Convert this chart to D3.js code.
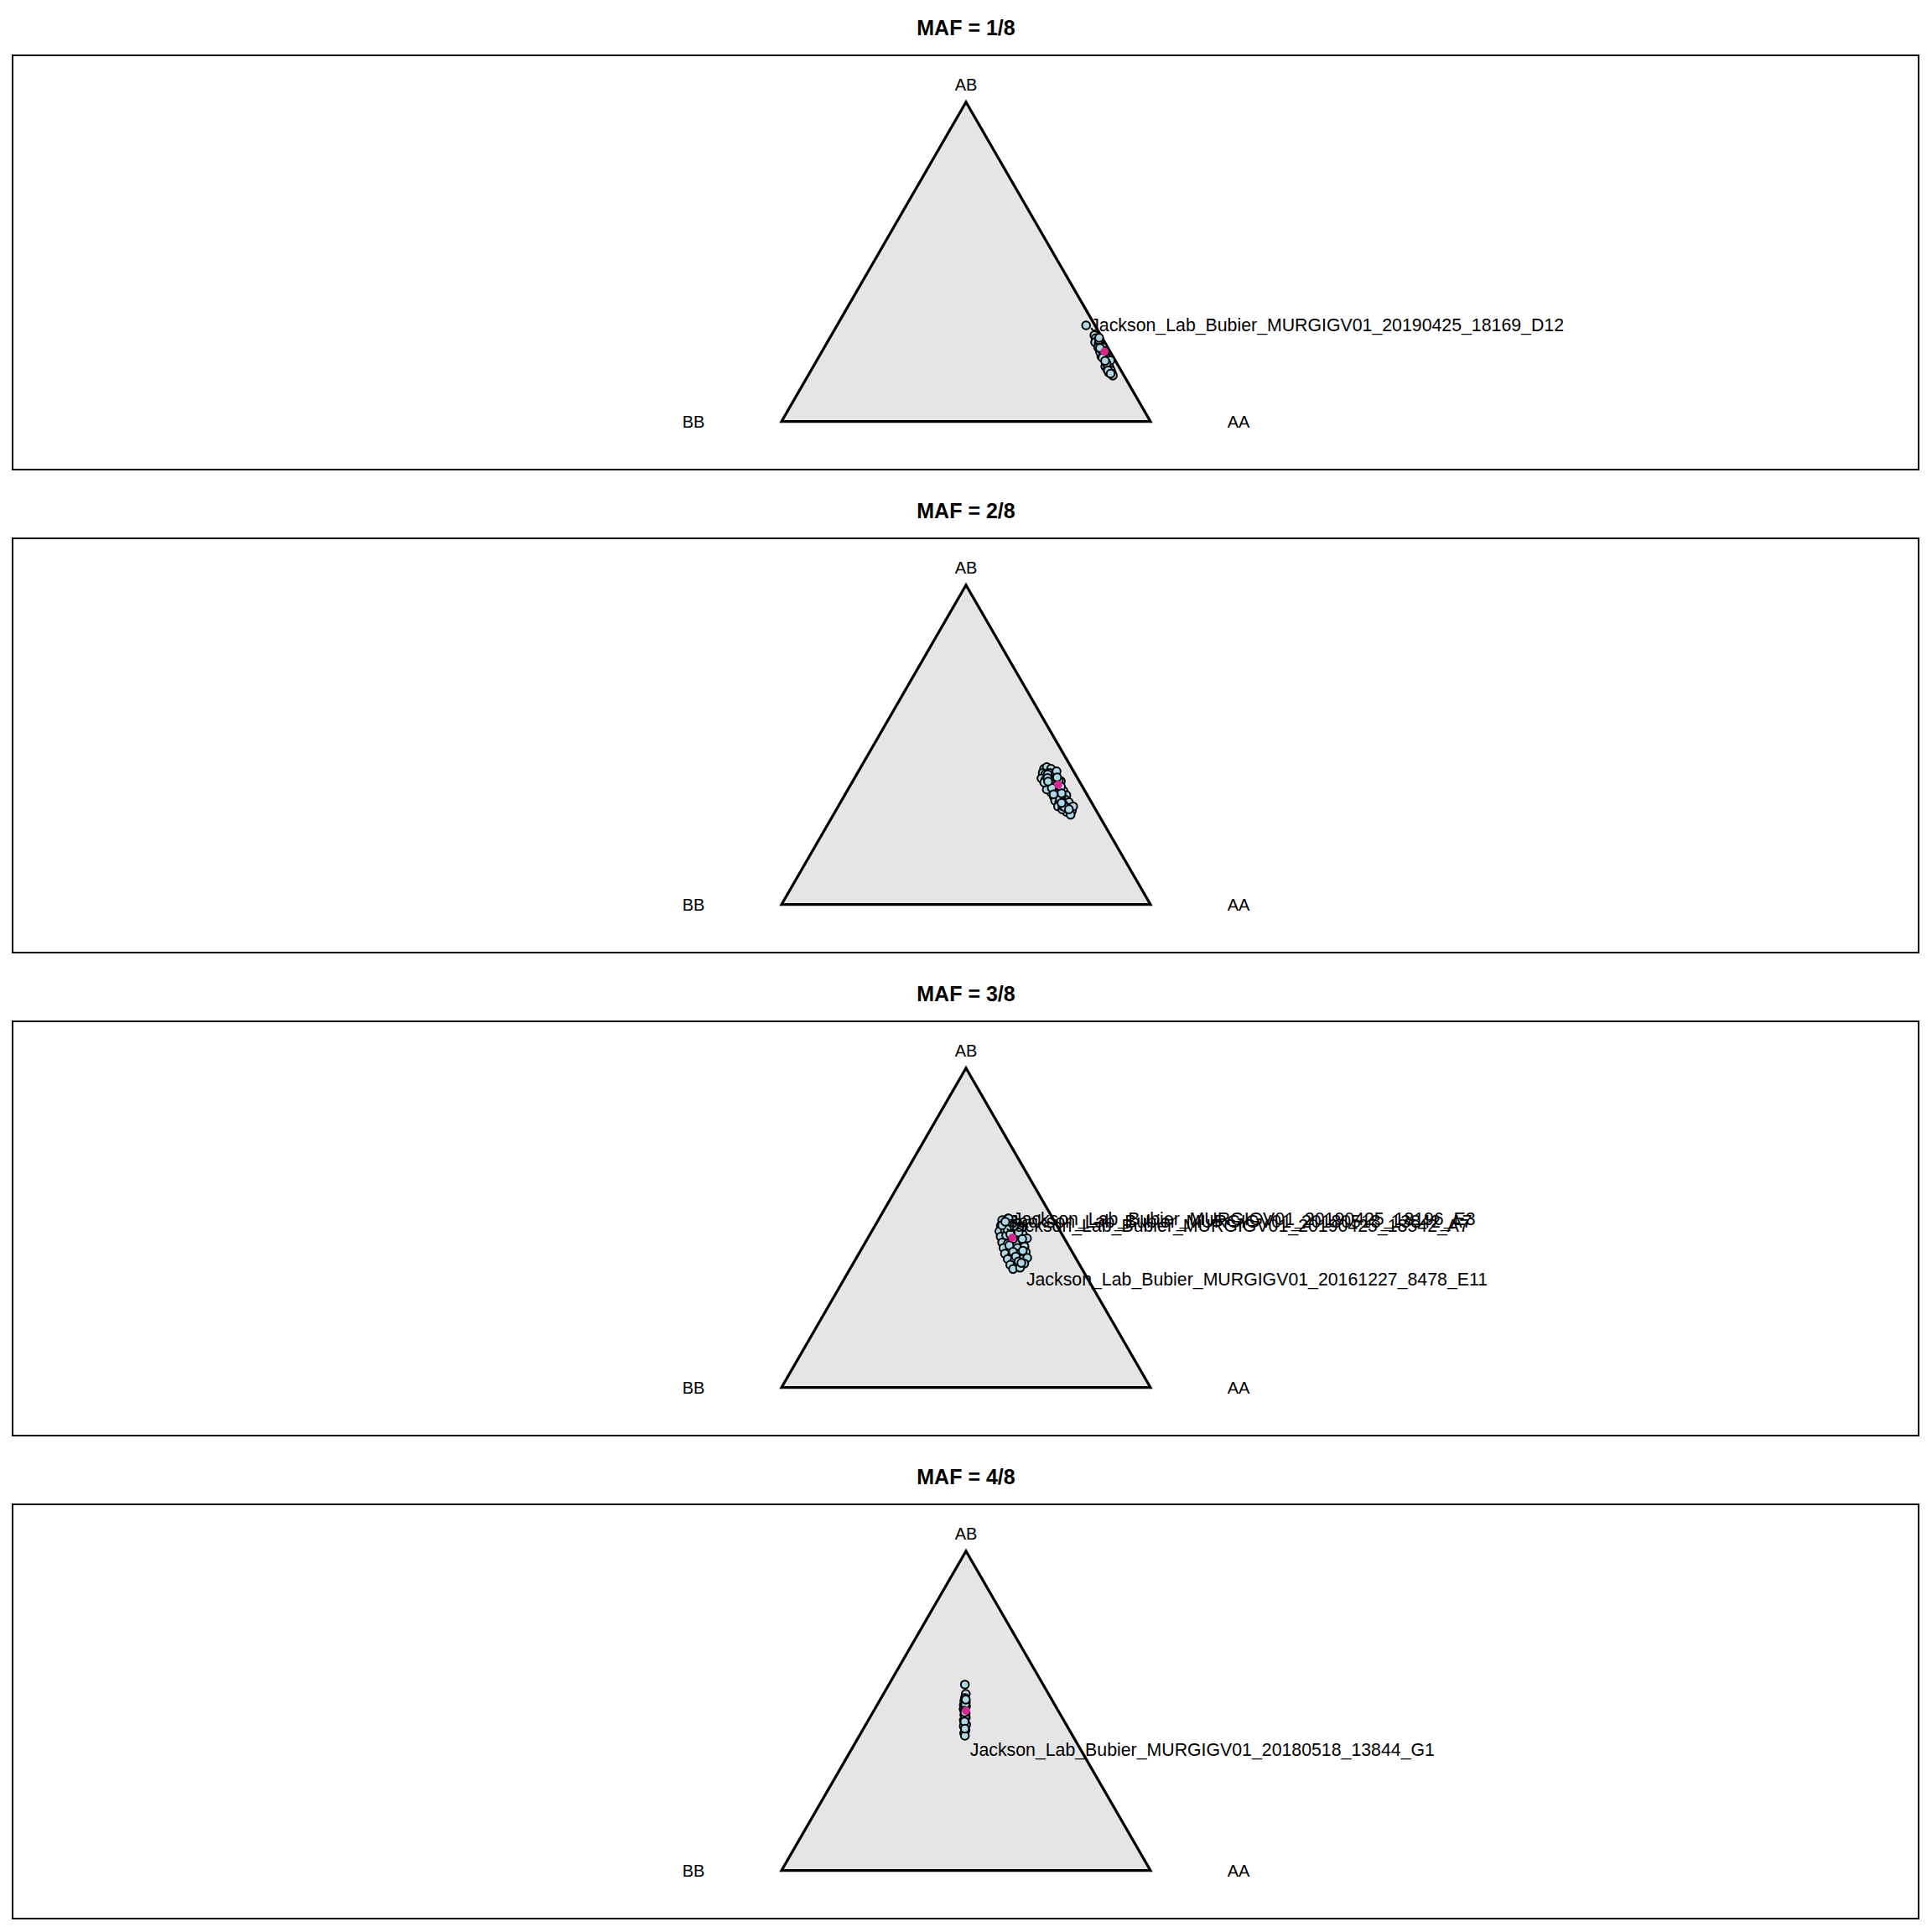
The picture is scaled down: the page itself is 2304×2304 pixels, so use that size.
<!DOCTYPE html>
<html>
<head>
<meta charset="utf-8">
<script src="https://cdn.jsdelivr.net/npm/d3@7"></script>
<style>
  html, body { margin: 0; padding: 0; background: #ffffff; }
  svg { display: block; }
  text { font-family: "Liberation Sans", Arial, Helvetica, sans-serif; fill: #000; }
</style>
</head>
<body>
<script>
// ---------------- DATA (genotype fractions) ----------------
const panelTitles = ["MAF = 1/8", "MAF = 2/8", "MAF = 3/8", "MAF = 4/8"];
const vertexNames = ["BB", "AB", "AA"];

// Each sample: [fraction AA, fraction AB]  (BB = 1 - AA - AB)
const samplesMAF1 = [
  [0.713,0.270],[0.721,0.261],[0.729,0.252],[0.726,0.248],[0.738,0.243],[0.744,0.237],
  [0.742,0.232],[0.754,0.226],[0.764,0.213],[0.774,0.208],[0.783,0.197],[0.777,0.195],
  [0.787,0.186],[0.796,0.180],[0.791,0.173],[0.805,0.169],[0.802,0.162],[0.813,0.160],
  [0.811,0.153],[0.821,0.150],[0.765,0.204],[0.755,0.217],[0.755,0.232],[0.733,0.255],
  [0.796,0.191],[0.826,0.144],[0.765,0.221],[0.760,0.220],[0.770,0.200],[0.748,0.230],
  [0.790,0.182],[0.805,0.160],[0.730,0.262],[0.782,0.190],[0.817,0.150],[0.675,0.301]
];
const samplesMAF2 = [
  [0.499,0.425],[0.504,0.430],[0.518,0.425],[0.502,0.412],[0.511,0.408],[0.521,0.412],
  [0.534,0.408],[0.507,0.395],[0.520,0.390],[0.529,0.395],[0.543,0.390],[0.546,0.377],
  [0.536,0.373],[0.564,0.386],[0.562,0.360],[0.573,0.360],[0.587,0.355],[0.555,0.351],
  [0.569,0.338],[0.578,0.342],[0.592,0.338],[0.601,0.342],[0.604,0.329],[0.579,0.325],
  [0.593,0.320],[0.619,0.320],[0.609,0.312],[0.624,0.303],[0.596,0.307],[0.640,0.294],
  [0.627,0.290],[0.643,0.281],[0.612,0.298],[0.637,0.307],[0.539,0.360],[0.521,0.382],
  [0.559,0.373],[0.573,0.369],[0.537,0.417],[0.518,0.407],[0.557,0.389],[0.590,0.337],
  [0.523,0.396],[0.576,0.343],[0.590,0.330],[0.608,0.308],[0.550,0.365],[0.585,0.348],
  [0.615,0.305],[0.600,0.318],[0.530,0.385],[0.548,0.398],[0.630,0.298],[0.565,0.345]
];
const samplesMAF3 = [
  [0.336,0.524],[0.349,0.529],[0.366,0.524],[0.341,0.507],[0.354,0.511],[0.369,0.511],
  [0.382,0.515],[0.346,0.489],[0.359,0.493],[0.389,0.493],[0.402,0.498],[0.358,0.472],
  [0.371,0.476],[0.405,0.476],[0.414,0.480],[0.371,0.454],[0.388,0.450],[0.409,0.454],
  [0.425,0.459],[0.432,0.467],[0.383,0.437],[0.404,0.432],[0.421,0.437],[0.438,0.441],
  [0.396,0.419],[0.417,0.415],[0.434,0.419],[0.450,0.424],[0.412,0.402],[0.433,0.397],
  [0.450,0.402],[0.463,0.406],[0.428,0.384],[0.449,0.380],[0.464,0.388],[0.442,0.371],
  [0.459,0.375],[0.365,0.495],[0.380,0.480],[0.395,0.465],[0.395,0.445],[0.415,0.425],
  [0.430,0.410],[0.445,0.395],[0.378,0.505],[0.400,0.485],[0.420,0.465],[0.440,0.428],
  [0.455,0.390],[0.351,0.529],[0.344,0.508],[0.347,0.519]
];
const samplesMAF4 = [
  [0.206,0.582],[0.223,0.553],[0.227,0.540],[0.230,0.531],[0.236,0.527],[0.235,0.518],
  [0.242,0.509],[0.253,0.492],[0.252,0.487],[0.260,0.479],[0.259,0.470],[0.267,0.461],
  [0.272,0.448],[0.279,0.439],[0.280,0.430],[0.286,0.422],[0.241,0.505],[0.243,0.514],
  [0.272,0.457],[0.268,0.452],[0.238,0.520],[0.246,0.500],[0.256,0.483],[0.263,0.466],
  [0.275,0.444],[0.232,0.535],[0.249,0.495]
];
// Hardy-Weinberg expected genotype fractions (magenta point) per panel: [AA, AB]
const expectedHWE = [[0.766,0.219],[0.5625,0.375],[0.391,0.469],[0.25,0.5]];

// Labelled samples
const labelPanel = [0, 2, 2, 2, 2, 3];
const labelNames = [
  "Jackson_Lab_Bubier_MURGIGV01_20190425_18169_D12",
  "Jackson_Lab_Bubier_MURGIGV01_20190425_18196_E3",
  "Jackson_Lab_Bubier_MURGIGV01_20190425_18542_A7",
  "Jackson_Lab_Bubier_MURGIGV01_20180518_13842_A7",
  "Jackson_Lab_Bubier_MURGIGV01_20161227_8478_E11",
  "Jackson_Lab_Bubier_MURGIGV01_20180518_13844_G1"
];
const labelAA = [0.675, 0.351, 0.344, 0.347, 0.482, 0.311];
const labelAB = [0.301, 0.529, 0.508, 0.519, 0.340, 0.377];

const allSamples = [samplesMAF1, samplesMAF2, samplesMAF3, samplesMAF4];

// ---------------- DRAWING ----------------
const W = 2304, H = 2304;
const S3 = Math.sqrt(3) / 2;
const svg = d3.select("body").append("svg").attr("width", W).attr("height", H);
svg.append("rect").attr("width", W).attr("height", H).attr("fill", "#fff");

const frameLeft = 15, frameRight = 2288, frameH = 494, firstTop = 66, step = 576;
const triLeft = 932, triRight = 1372, baseOffset = 436.7;

// ternary -> cartesian
const tx = d => d[0] + d[1] / 2;
const ty = d => d[1] * S3;

for (let k = 0; k < 4; k++) {
  const top = firstTop + step * k;
  const g = svg.append("g");
  const base = top + baseOffset;
  const x = d3.scaleLinear().domain([0, 1]).range([triLeft, triRight]);
  const y = d3.scaleLinear().domain([0, S3]).range([base, base - (triRight - triLeft) * S3]);

  // frame
  g.append("rect")
    .attr("x", frameLeft).attr("y", top)
    .attr("width", frameRight - frameLeft).attr("height", frameH)
    .attr("fill", "none").attr("stroke", "#000").attr("stroke-width", 2);

  // title
  g.append("text")
    .attr("x", (frameLeft + frameRight) / 2 + 0.5).attr("y", top - 24)
    .attr("text-anchor", "middle")
    .style("font-size", "25px").style("font-weight", "bold")
    .text(panelTitles[k]);

  // triangle (BB, AA, AB corners as genotype fractions)
  const corners = [[0, 0], [1, 0], [0, 1]];
  const line = d3.line().x(d => x(tx(d))).y(d => y(ty(d)));
  g.append("path")
    .attr("d", line(corners) + "Z")
    .attr("fill", "#e5e5e5").attr("stroke", "#000")
    .attr("stroke-width", 3.2).attr("stroke-linejoin", "miter");

  // vertex labels
  g.append("text").attr("x", x(0) - 105).attr("y", base + 7.5)
    .attr("text-anchor", "middle").style("font-size", "20px").text(vertexNames[0]);
  g.append("text").attr("x", x(0.5)).attr("y", y(S3) - 13.5)
    .attr("text-anchor", "middle").style("font-size", "20px").text(vertexNames[1]);
  g.append("text").attr("x", x(1) + 105).attr("y", base + 7.5)
    .attr("text-anchor", "middle").style("font-size", "20px").text(vertexNames[2]);

  // samples
  g.selectAll("circle.s").data(allSamples[k]).join("circle")
    .attr("class", "s")
    .attr("cx", d => x(tx(d))).attr("cy", d => y(ty(d)))
    .attr("r", 4.8)
    .attr("fill", "#add8e6").attr("stroke", "#000").attr("stroke-width", 2);

  // expected point
  const e = expectedHWE[k];
  g.append("circle")
    .attr("cx", x(tx(e))).attr("cy", y(ty(e))).attr("r", 4.8)
    .attr("fill", "#d6288c");

  // labels
  labelNames.forEach((name, i) => {
    if (labelPanel[i] !== k) return;
    const d = [labelAA[i], labelAB[i]];
    g.append("text")
      .attr("x", x(tx(d)) + 5).attr("y", y(ty(d)))
      .attr("dy", "0.35em")
      .style("font-size", "21.3px")
      .text(name);
  });
}
</script>
</body>
</html>
